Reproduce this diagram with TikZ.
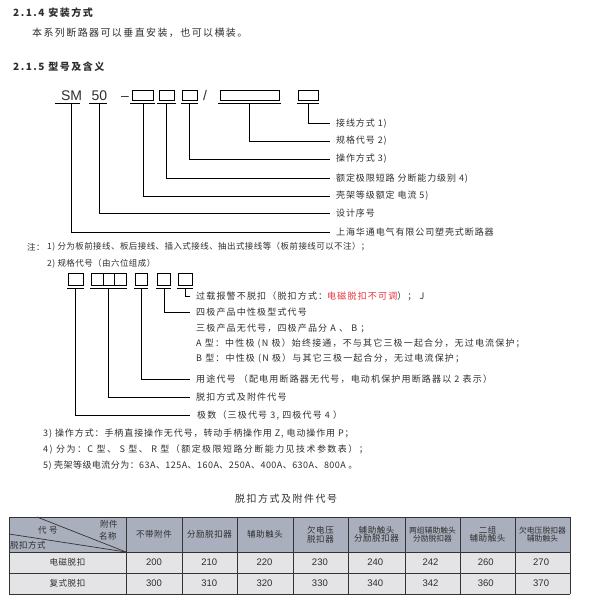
\documentclass[tikz,border=0pt]{standalone}
\usepackage{fontspec}
\setmainfont{Noto Sans CJK SC}
\newfontfamily\zh{Noto Sans CJK SC}
\newfontfamily\lat{Liberation Sans}
\newcommand\zf[2]{\zh\fontsize{#1}{#1}\selectfont\addfontfeatures{LetterSpace=#2}}
\definecolor{txt}{HTML}{2E2E2E}
\definecolor{red1}{HTML}{E8333C}
\definecolor{hdr}{HTML}{A9AFBC}
\definecolor{body}{HTML}{E4E4E6}
\tikzset{
  lab/.style={anchor=west, inner sep=0pt, text=txt, font=\zf{9}{10}},
  lab2/.style={anchor=west, inner sep=0pt, text=txt, font=\zf{9}{13}},
  note/.style={anchor=west, inner sep=0pt, text=txt, font=\zf{8.5}{5}},
  head/.style={anchor=west, inner sep=0pt, text=txt, font=\zf{10}{15}\bfseries},
  big/.style={anchor=west, inner sep=0pt, text=txt, font=\zf{10}{14}},
  code/.style={anchor=base, inner sep=0pt, text=txt, font=\lat\fontsize{14}{16}\selectfont},
  bx/.style={draw=black, line width=0.8pt},
  ld/.style={draw=black, line width=0.8pt},
  cell/.style={anchor=center, inner sep=0pt, text=txt, font=\zf{8.5}{6}, align=center},
  num/.style={anchor=center, inner sep=0pt, text=txt, font=\lat\fontsize{9.5}{11}\selectfont},
  grid/.style={draw=black!80, line width=0.7pt}
}
\begin{document}
\begin{tikzpicture}[x=1pt,y=-1pt]
\useasboundingbox (0,0) rectangle (588,609);
% headings
\node[head] (h1) at (13,13) {2.1.4 安装方式};
\node[big] (p1) at (32,33) {本系列断路器可以垂直安装，也可以横装。};
\node[head] (h2) at (13,67) {2.1.5 型号及含义};
% model code row
\node[code] (sm) at (71.5,101) {SM};
\node[code] (fifty) at (99.5,101) {50};
\node[code] (dash) at (125,101) {–};
\node[code] (slash) at (205,101) {/};
\coordinate (b1a) at (132,90); \coordinate (b1b) at (153,100);
\coordinate (b2a) at (159,90); \coordinate (b2b) at (174,100);
\coordinate (b3a) at (182,90); \coordinate (b3b) at (197,100);
\coordinate (b4a) at (220,90); \coordinate (b4b) at (279,100);
\coordinate (b5a) at (298,90); \coordinate (b5b) at (318,100);
\foreach \a/\b in {b1a/b1b,b2a/b2b,b3a/b3b,b4a/b4b,b5a/b5b}{\draw[bx] (\a) rectangle (\b);}
% underlines
\foreach \l/\r in {55/80,89/107,130/155,157/176,181/198,218/281,297/319}{\draw[ld] (\l,103.5) -- (\r,103.5);}
% labels
\node[lab] (l1) at (336,123.5) {接线方式 1)};
\node[lab] (l2) at (336,141) {规格代号 2)};
\node[lab] (l3) at (336,159) {操作方式 3)};
\node[lab] (l4) at (336,178.5) {额定极限短路 分断能力级别 4)};
\node[lab] (l5) at (336,196) {壳架等级额定 电流 5)};
\node[lab] (l6) at (336,213.5) {设计序号};
\node[lab] (l7) at (336,232) {上海华通电气有限公司塑壳式断路器};
\draw[ld] (308,103.5) |- ([xshift=-6pt]l1.west);
\draw[ld] (249.5,103.5) |- ([xshift=-6pt]l2.west);
\draw[ld] (189.5,103.5) |- ([xshift=-6pt]l3.west);
\draw[ld] (166.5,103.5) |- ([xshift=-6pt]l4.west);
\draw[ld] (143,103.5) |- ([xshift=-6pt]l5.west);
\draw[ld] (99,103.5) |- ([xshift=-6pt]l6.west);
\draw[ld] (71,103.5) |- ([xshift=-6pt]l7.west);
% notes
\node[note] (n0) at (27,247) {注：};
\node[note] (n1) at (47,247) {1) 分为板前接线、板后接线、插入式接线、抽出式接线等（板前接线可以不注）；};
\node[note] (n2) at (47,263.3) {2) 规格代号（由六位组成）};
% second code row
\draw[bx] (68,273) rectangle (83,285);
\draw[bx] (91,273) rectangle (126,285);
\draw[bx] (103,273) -- (103,285);
\draw[bx] (114.5,273) -- (114.5,285);
\draw[bx] (135,273) rectangle (147,285);
\draw[bx] (157,273) rectangle (170,285);
\draw[bx] (178,273) rectangle (192,285);
\foreach \l/\r in {67/84,90/127,134/148,156/171,177/193}{\draw[ld] (\l,288) -- (\r,288);}
\node[lab2] (r1) at (196,296.5) {过载报警不脱扣（脱扣方式：\textcolor{red1}{电磁脱扣不可调}）；  J};
\node[lab2] (r2) at (196,312) {四极产品中性极型式代号};
\node[lab2] (r2a) at (196,328) {三极产品无代号，四极产品分 A 、 B ；};
\node[lab2] (r2b) at (196,343.5) {A 型：中性极 (N 极）始终接通，不与其它三极一起合分，无过电流保护；};
\node[lab2] (r2c) at (196,359) {B 型：中性极 (N 极）与其它三极一起合分，无过电流保护；};
\node[lab2] (r3) at (196,379) {用途代号 （配电用断路器无代号，电动机保护用断路器以 2 表示）};
\node[lab2] (r4) at (196,397) {脱扣方式及附件代号};
\node[lab2] (r5) at (197,415.7) {极数（三极代号 3, 四极代号 4 ）};
\draw[ld] (185,288) |- ([xshift=-6pt]r1.west);
\draw[ld] (164,288) |- ([xshift=-6pt]r2.west);
\draw[ld] (141,288) |- ([xshift=-6pt]r3.west);
\draw[ld] (108.5,288) |- ([xshift=-6pt]r4.west);
\draw[ld] (75.5,288) |- ([xshift=-7pt]r5.west);
% notes 3-5
\node[note,font=\zf{9}{10}] (n3) at (43,434) {3) 操作方式：手柄直接操作无代号，转动手柄操作用 Z, 电动操作用 P；};
\node[note,font=\zf{9}{16}] (n4) at (43,450) {4) 分为：C 型、 S 型、 R 型（额定极限短路分断能力见技术参数表）；};
\node[note,font=\zf{9}{5}] (n5) at (43,466) {5) 壳架等级电流分为：63A、125A、160A、250A、400A、630A、800A 。};
% table title
\node[big,font=\zf{10}{15}] (tt) at (235,499) {脱扣方式及附件代号};
% table
\fill[hdr] (9,517) rectangle (570,552);
\fill[body] (9,552) rectangle (570,594);
\foreach \y in {517,552,573,594}{\draw[grid] (9,\y) -- (570,\y);}
\foreach \x in {9,126,182,237,293,348,405,460,515,570}{\draw[grid] (\x,517) -- (\x,594);}
\draw[grid] (37,517) -- (126,552);
\draw[grid] (9,534) -- (126,552);
\node[cell,anchor=west] (c0a) at (38,530) {代 号};
\node[cell,anchor=west] (c0b) at (100,524.5) {附件};
\node[cell,anchor=west] (c0c) at (99,536) {名称};
\node[cell,anchor=west] (c0d) at (10,545.5) {脱扣方式};
\node[cell] (c1) at (154,534.5) {不带附件};
\node[cell] (c2) at (209.5,534.5) {分励脱扣器};
\node[cell] (c3) at (265,534.5) {辅助触头};
\node[cell] (c4) at (320.5,534.5) {欠电压\\脱扣器};
\node[cell] (c5) at (376.5,534.5) {辅助触头\\分励脱扣器};
\node[cell,font=\zf{7.8}{0}] (c6) at (432.5,534.5) {两组辅助触头\\分励脱扣器};
\node[cell] (c7) at (487.5,534.5) {二组\\辅助触头};
\node[cell,font=\zf{7.8}{0}] (c8) at (542.5,534.5) {欠电压脱扣器\\辅助触头};
\node[cell] (d0) at (67.5,562.5) {电磁脱扣};
\node[cell] (e0) at (67.5,583.5) {复式脱扣};
\foreach \v [count=\i] in {200,210,220,230,240,242,260,270}{
  \pgfmathsetmacro{\cx}{154+(\i-1)*55.3}
  \node[num] (d\i) at (\cx,562.5) {\v};}
\foreach \v [count=\i] in {300,310,320,330,340,342,360,370}{
  \pgfmathsetmacro{\cx}{154+(\i-1)*55.3}
  \node[num] (e\i) at (\cx,583.5) {\v};}
\end{tikzpicture}
\end{document}
